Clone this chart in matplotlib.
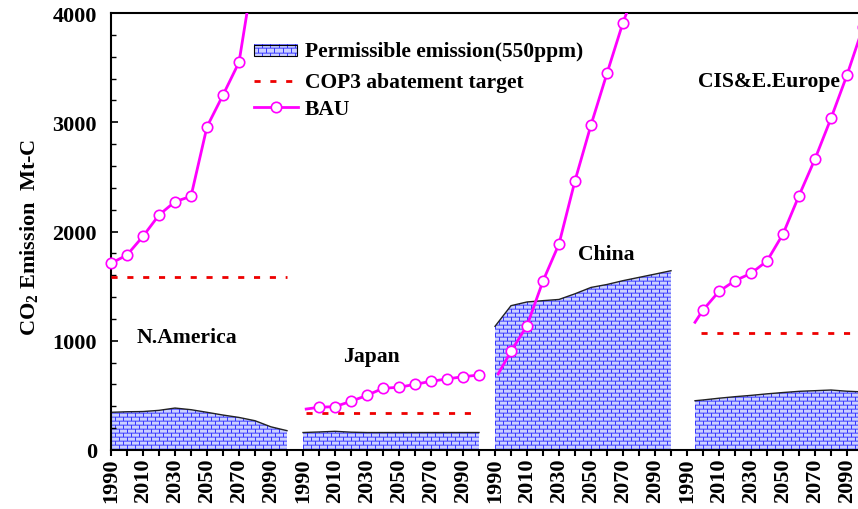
import numpy as np
import matplotlib
matplotlib.use("Agg")
import matplotlib.pyplot as plt
from matplotlib.ticker import FixedLocator, MultipleLocator
from matplotlib.patches import Rectangle
from matplotlib.lines import Line2D

plt.rcParams["font.family"] = ["Liberation Serif", "DejaVu Serif"]
plt.rcParams["font.weight"] = "bold"
plt.rcParams["mathtext.default"] = "regular"

# ---- data (Mt-C) -------------------------------------------------------
regions = ["N.America", "Japan", "China", "CIS&E.Europe"]

na_years = [1990, 2000, 2010, 2020, 2030, 2040, 2050, 2060, 2070, 2080, 2090, 2100]
na_permissible = [345, 350, 352, 363, 384, 369, 345, 320, 298, 268, 212, 177]
na_bau_years = [1990, 2000, 2010, 2020, 2030, 2040, 2050, 2060, 2070, 2080]
na_bau = [1709, 1785, 1956, 2151, 2273, 2322, 2959, 3249, 3549, 4460]
na_cop3 = 1581
na_cop3_span = [1990, 2100]

jp_years = [1990, 2000, 2010, 2020, 2030, 2040, 2050, 2060, 2070, 2080, 2090, 2100]
jp_permissible = [160, 165, 171, 163, 160, 160, 160, 160, 160, 160, 160, 160]
jp_bau_years = [1992, 2000, 2010, 2020, 2030, 2040, 2050, 2060, 2070, 2080, 2090, 2100]
jp_bau = [375, 391, 397, 446, 500, 565, 574, 601, 629, 650, 671, 686]
jp_cop3 = 338
jp_cop3_span = [1992, 2100]

cn_years = [1990, 2000, 2010, 2020, 2030, 2040, 2050, 2060, 2070, 2080, 2090, 2100]
cn_permissible = [1132, 1321, 1355, 1367, 1378, 1430, 1488, 1515, 1550, 1580, 1610, 1641]
cn_bau_years = [1992, 2000, 2010, 2020, 2030, 2040, 2050, 2060, 2070, 2080]
cn_bau = [696, 903, 1138, 1547, 1886, 2465, 2975, 3448, 3913, 4300]

cis_years = [1995, 2000, 2010, 2020, 2030, 2040, 2050, 2060, 2070, 2080, 2090, 2100]
cis_permissible = [451, 458, 474, 488, 500, 514, 526, 537, 543, 549, 538, 532]
cis_bau_years = [1995, 2000, 2010, 2020, 2030, 2040, 2050, 2060, 2070, 2080, 2090, 2100]
cis_bau = [1169, 1281, 1452, 1550, 1617, 1730, 1977, 2328, 2664, 3036, 3432, 3870]
cis_cop3 = 1071
cis_cop3_span = [1999, 2100]

year_labels = ["1990", "2010", "2030", "2050", "2070", "2090"]
y_ticks = [0, 1000, 2000, 3000, 4000]

# each region occupies its own 120-year slot along one shared axis
slot = 120
x_start, x_end = 1990, 1990 + 747 / 1.6
y_max = 4000

panels = [
    dict(name=regions[0], years=na_years, perm=na_permissible, bau_x=na_bau_years,
         bau=na_bau, mark_from=0, cop3=na_cop3, cop3_span=na_cop3_span,
         label_at=(2037.5, 1034)),
    dict(name=regions[1], years=jp_years, perm=jp_permissible, bau_x=jp_bau_years,
         bau=jp_bau, mark_from=1, cop3=jp_cop3, cop3_span=jp_cop3_span,
         label_at=(2032.5, 860)),
    dict(name=regions[2], years=cn_years, perm=cn_permissible, bau_x=cn_bau_years,
         bau=cn_bau, mark_from=1, cop3=None, cop3_span=None,
         label_at=(2059.4, 1794)),
    dict(name=regions[3], years=cis_years, perm=cis_permissible, bau_x=cis_bau_years,
         bau=cis_bau, mark_from=1, cop3=cis_cop3, cop3_span=cis_cop3_span,
         label_at=(2041, 3375)),
]

MAGENTA = "#ff00ff"
RED = "#ee0000"


def brick_texture(h, w):
    """Blue brick-wall pixel texture used for the permissible-emission areas."""
    white = [0.80, 0.82, 1.0]
    joint = [0.22, 0.22, 1.0]
    mortar = [0.44, 0.45, 1.0]
    light = [0.60, 0.62, 1.0]
    tile = np.empty((8, 8, 3))
    for course, jcol in ((0, 0), (1, 4)):
        r = course * 4
        tile[r, :] = mortar
        tile[r + 1, :] = white
        tile[r + 2, :] = white
        tile[r + 3, :] = light
        tile[r:r + 4, jcol] = joint
    reps = (h // 8 + 2, w // 8 + 2, 1)
    return np.tile(tile, reps)[:h, :w]


fig = plt.figure(figsize=(8.58, 5.10), dpi=100)
ax = fig.add_axes([111 / 858, 59 / 510, 747 / 858, 437 / 510])
ax.set_xlim(x_start, x_end)
ax.set_ylim(0, y_max)

bb = ax.get_window_extent()
tex = brick_texture(int(round(bb.height)), int(round(bb.width)))

for k, p in enumerate(panels):
    off = k * slot
    xs = np.array(p["years"]) + off
    ys = np.array(p["perm"])
    poly = ax.fill_between(xs, 0, ys, facecolor="none", edgecolor="none", lw=0)
    im = ax.imshow(tex, extent=(x_start, x_end, 0, y_max), aspect="auto",
                   interpolation="nearest", origin="upper", zorder=1)
    im.set_clip_path(poly.get_paths()[0], transform=ax.transData)
    ax.plot(xs, ys, color="#222222", lw=1.0, zorder=2)

    if p["cop3"] is not None:
        sx = np.array(p["cop3_span"]) + off
        ax.plot(sx, [p["cop3"], p["cop3"]], color=RED, lw=2,
                dashes=(2.2, 3.5), zorder=3)

    bx = np.array(p["bau_x"]) + off
    by = np.array(p["bau"])
    ax.plot(bx, by, color=MAGENTA, lw=2, zorder=4)
    # open circles, allowed to overhang the frame edges
    sel = np.arange(len(bx)) >= p["mark_from"]
    sel &= by <= y_max
    ax.plot(bx[sel], by[sel], ls="none", marker="o", ms=7.5, mfc="white",
            mec=MAGENTA, mew=1.2, zorder=5, clip_on=False)

    lx, ly = p["label_at"]
    ax.text(lx + off, ly, p["name"], ha="center", va="center",
            fontsize=15.6, fontweight="bold", zorder=6)

ax.set_xlim(x_start, x_end)
ax.set_ylim(0, y_max)

# ---- ticks -----------------------------------------------------------------
tick_pos = np.arange(1990, x_end, 10)
tick_txt = []
for t in tick_pos:
    yr = 1990 + int(round(t - 1990)) % slot
    tick_txt.append(str(yr) if str(yr) in year_labels else "")
ax.xaxis.set_major_locator(FixedLocator(tick_pos))
ax.set_xticklabels(tick_txt)
ax.tick_params(axis="x", direction="out", length=4.3, width=1.5, pad=1,
               labelsize=16, labelrotation=90)

ax.yaxis.set_major_locator(FixedLocator(y_ticks))
ax.yaxis.set_minor_locator(MultipleLocator(200))
ax.tick_params(axis="y", which="major", direction="in", length=5, width=1.2,
               pad=10, labelsize=16)
ax.tick_params(axis="y", which="minor", direction="in", length=3.5, width=1.0)
for lab in ax.get_xticklabels() + ax.get_yticklabels():
    lab.set_fontweight("bold")

for side in ("left", "bottom", "top"):
    ax.spines[side].set_linewidth(1.5)
ax.spines["right"].set_visible(False)

ax.set_ylabel("CO$_2$ Emission  Mt-C", fontsize=16, fontweight="bold", va="center")
ax.yaxis.set_label_coords(-0.110, 0.489)

# ---- legend ----------------------------------------------------------------
lx0, lx1 = 0.1914, 0.2490
ax.imshow(brick_texture(11, 43), extent=(lx0, lx1, 0.9023, 0.9275),
          transform=ax.transAxes, aspect="auto", interpolation="nearest",
          origin="upper", zorder=6)
ax.add_patch(Rectangle((lx0, 0.9023), lx1 - lx0, 0.9275 - 0.9023,
                       transform=ax.transAxes, fill=False, ec="black", lw=0.8,
                       zorder=7))
ax.add_line(Line2D([lx0, lx1], [0.8437, 0.8437], transform=ax.transAxes,
                   color=RED, lw=2, dashes=(2.2, 3.5), zorder=7))
ax.add_line(Line2D([lx0, lx1 + 0.002], [0.7849, 0.7849], transform=ax.transAxes,
                   color=MAGENTA, lw=2, zorder=7))
ax.add_line(Line2D([(lx0 + lx1 + 0.002) / 2], [0.7849], transform=ax.transAxes,
                   marker="o", ms=7.5, mfc="white", mec=MAGENTA, mew=1.2,
                   ls="none", zorder=8))
legend_texts = ["Permissible emission(550ppm)", "COP3 abatement target", "BAU"]
for txt, yb in zip(legend_texts, [0.9023, 0.8300, 0.7689]):
    ax.text(0.2597, yb, txt, transform=ax.transAxes, ha="left", va="baseline",
            fontsize=15.5, fontweight="bold", zorder=8)

ax.set_xlim(x_start, x_end)
ax.set_ylim(0, y_max)

fig.savefig("out.png", dpi=100)
